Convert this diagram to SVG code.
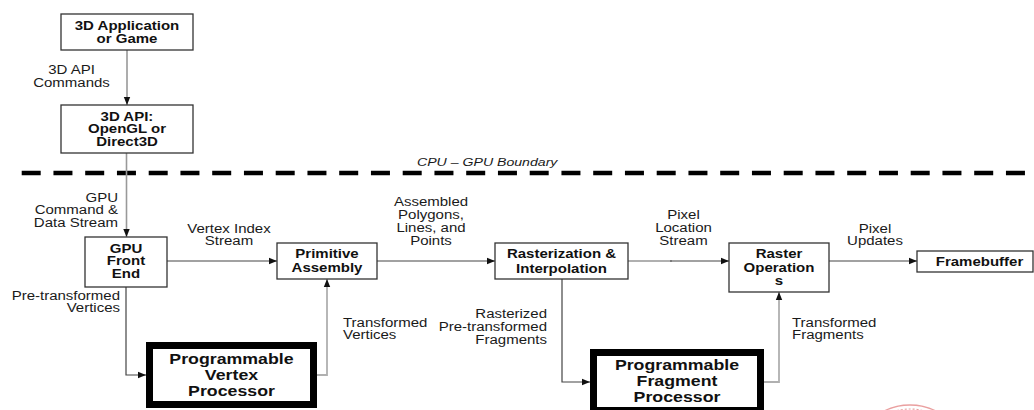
<svg xmlns="http://www.w3.org/2000/svg" width="1034" height="410" viewBox="0 0 1034 410">
<defs>
<marker id="ah" markerUnits="userSpaceOnUse" markerWidth="8" markerHeight="8" viewBox="0 0 8 8" refX="8" refY="4" orient="auto">
<path d="M0,0.8 L8,4 L0,7.2 Z" fill="#111"/>
</marker>
<style>
.box{fill:#fff;stroke:#333;stroke-width:1.3}
.pbox{fill:#fff;stroke:#000;stroke-width:7}
.b{font-family:"Liberation Sans",Arial,sans-serif;font-weight:bold;font-size:12px;fill:#111;text-anchor:middle}
.pb{font-family:"Liberation Sans",Arial,sans-serif;font-weight:bold;font-size:14.2px;fill:#111;text-anchor:middle}
.l{font-family:"Liberation Sans",Arial,sans-serif;font-size:12px;fill:#1a1a1a}
.m{text-anchor:middle}
.e{text-anchor:end}
.dk{fill:none;stroke:#444;stroke-width:1.2}
.gr{fill:none;stroke:#999;stroke-width:1.6}
.lt{fill:none;stroke:#b0b0b0;stroke-width:1.8}
</style>
</defs>
<rect width="1034" height="410" fill="#fff"/>

<g id="boundary">
<line x1="21.7" y1="173" x2="1034" y2="173" stroke="#000" stroke-width="4.5" stroke-dasharray="19 12.75"/>
<text class="l" transform="scale(1.25 1)" x="333.6" y="166" style="font-style:italic;font-size:11.3px">CPU – GPU Boundary</text>
</g>

<g id="connectors">
<path class="gr" d="M127,50 V105" marker-end="url(#ah)"/>
<path class="gr" d="M126.5,153 V237" marker-end="url(#ah)"/>
<path class="dk" d="M167,261 H277" marker-end="url(#ah)"/>
<path class="dk" d="M126,287 V375 H146" marker-end="url(#ah)"/>
<path class="lt" d="M317,375 H327 V279" marker-end="url(#ah)"/>
<path class="dk" d="M377,261 H495" marker-end="url(#ah)"/>
<path class="dk" d="M562,279 V382 H590" marker-end="url(#ah)"/>
<path class="lt" d="M628,261 H672"/>
<path class="dk" d="M670,261 H729" marker-end="url(#ah)"/>
<path class="lt" d="M764,382 H779 V292" marker-end="url(#ah)"/>
<path class="dk" d="M829,261 H917" marker-end="url(#ah)"/>
</g>

<g id="labels">
<text class="l m" transform="scale(1.25 1)"><tspan x="57.2" y="74.5">3D API</tspan><tspan x="57.2" y="87.5">Commands</tspan></text>
<text class="l e" transform="scale(1.25 1)"><tspan x="94.4" y="202">GPU</tspan><tspan x="94.4" y="214.5">Command &amp;</tspan><tspan x="94.4" y="227">Data Stream</tspan></text>
<text class="l m" transform="scale(1.25 1)"><tspan x="183.2" y="233">Vertex Index</tspan><tspan x="183.2" y="245">Stream</tspan></text>
<text class="l e" transform="scale(1.25 1)"><tspan x="96" y="300">Pre-transformed</tspan><tspan x="96" y="312">Vertices</tspan></text>
<text class="l" transform="scale(1.25 1)"><tspan x="274.4" y="327">Transformed</tspan><tspan x="274.4" y="339">Vertices</tspan></text>
<text class="l m" transform="scale(1.25 1)"><tspan x="344.8" y="206">Assembled</tspan><tspan x="344.8" y="219">Polygons,</tspan><tspan x="344.8" y="232">Lines, and</tspan><tspan x="344.8" y="245">Points</tspan></text>
<text class="l e" transform="scale(1.25 1)"><tspan x="437.6" y="318">Rasterized</tspan><tspan x="437.6" y="331">Pre-transformed</tspan><tspan x="437.6" y="344">Fragments</tspan></text>
<text class="l m" transform="scale(1.25 1)"><tspan x="546.8" y="219">Pixel</tspan><tspan x="546.8" y="232">Location</tspan><tspan x="546.8" y="245">Stream</tspan></text>
<text class="l" transform="scale(1.25 1)"><tspan x="633.6" y="327">Transformed</tspan><tspan x="633.6" y="339">Fragments</tspan></text>
<text class="l m" transform="scale(1.25 1)"><tspan x="700" y="233">Pixel</tspan><tspan x="700" y="245">Updates</tspan></text>
</g>

<g id="app">
<rect class="box" x="61" y="14" width="132" height="36"/>
<text class="b" transform="scale(1.25 1)"><tspan x="101.6" y="30">3D Application</tspan><tspan x="101.6" y="43">or Game</tspan></text>
</g>
<g id="api">
<rect class="box" x="61" y="105" width="132" height="48"/>
<text class="b" transform="scale(1.25 1)"><tspan x="101.6" y="121">3D API:</tspan><tspan x="101.6" y="133.5">OpenGL or</tspan><tspan x="101.6" y="146">Direct3D</tspan></text>
</g>
<g id="frontend">
<rect class="box" x="85" y="237" width="82" height="50"/>
<text class="b" transform="scale(1.25 1)"><tspan x="100.8" y="253">GPU</tspan><tspan x="100.8" y="265.5">Front</tspan><tspan x="100.8" y="278">End</tspan></text>
</g>
<g id="primitive">
<rect class="box" x="277" y="243" width="100" height="36"/>
<text class="b" transform="scale(1.25 1)"><tspan x="261.6" y="258">Primitive</tspan><tspan x="261.6" y="272">Assembly</tspan></text>
</g>
<g id="raster">
<rect class="box" x="495" y="243" width="133" height="36"/>
<text class="b" transform="scale(1.25 1)"><tspan x="449.2" y="258">Rasterization &amp;</tspan><tspan x="449.2" y="273">Interpolation</tspan></text>
</g>
<g id="rop">
<rect class="box" x="729" y="243" width="100" height="49"/>
<text class="b" transform="scale(1.25 1)"><tspan x="623.2" y="258">Raster</tspan><tspan x="623.2" y="272">Operation</tspan><tspan x="623.2" y="285">s</tspan></text>
</g>
<g id="framebuffer">
<rect class="box" x="917" y="251" width="116" height="21"/>
<text class="b" transform="scale(1.25 1)" x="783.6" y="266">Framebuffer</text>
</g>
<g id="vertexproc">
<rect class="pbox" x="149.5" y="345.5" width="164" height="59"/>
<text class="pb" transform="scale(1.25 1)"><tspan x="185.2" y="364">Programmable</tspan><tspan x="185.2" y="380">Vertex</tspan><tspan x="185.2" y="396">Processor</tspan></text>
</g>
<g id="fragproc">
<rect class="pbox" x="593.5" y="352.5" width="167" height="58"/>
<text class="pb" transform="scale(1.25 1)"><tspan x="541.6" y="370">Programmable</tspan><tspan x="541.6" y="386">Fragment</tspan><tspan x="541.6" y="402">Processor</tspan></text>
</g>

<g id="stamp" fill="none" stroke="#eaa0a0">
<circle cx="910" cy="462" r="57" stroke-width="1.3"/>
<circle cx="910" cy="462" r="53" stroke-width="1.2" stroke-dasharray="2 2"/>
</g>
</svg>
